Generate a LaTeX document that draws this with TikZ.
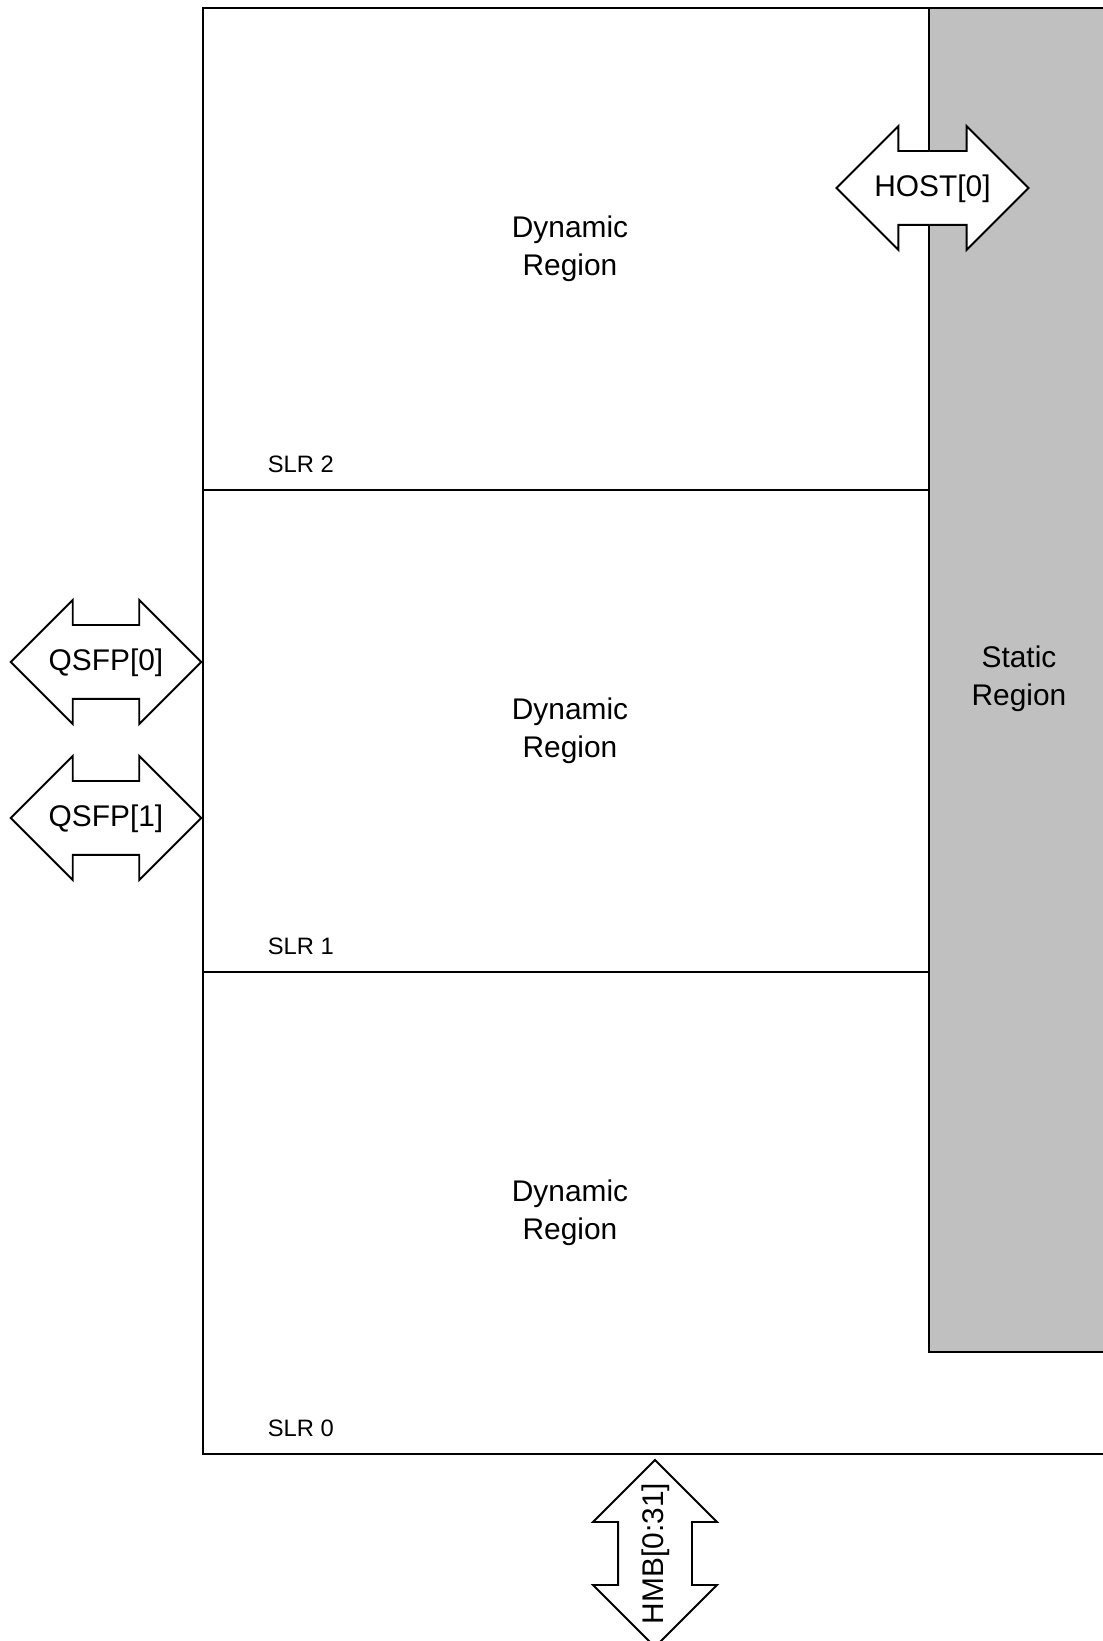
\documentclass[tikz,border=0pt]{standalone}
\usepackage{fontspec}
\setmainfont{Liberation Sans}
\usetikzlibrary{shapes.arrows}
\definecolor{staticgray}{HTML}{C0C0C0}

\begin{document}
\begin{tikzpicture}[line width=1.1pt,
  port/.style={double arrow,draw,fill=white,minimum height=3.8cm,minimum width=2.44cm,
    double arrow head extend=0.5cm,double arrow tip angle=90,inner xsep=0pt,inner ysep=0.395cm,
    text height=0.5cm,text depth=0.15cm,font=\fontsize{17}{21.6}\selectfont},
  region/.style={align=center,font=\fontsize{17}{21.6}\selectfont},
  slr/.style={anchor=west,font=\fontsize{13.5}{16}\selectfont}]

\useasboundingbox (0,0) rectangle (22.04,32.82);

% device outline and static part
\draw (4.06,3.74) rectangle (22.4,32.66);
\draw[fill=staticgray] (18.58,5.78) rectangle (22.4,32.66);

% SLR borders
\draw (4.06,23.02) -- (18.58,23.02);
\draw (4.06,13.38) -- (18.58,13.38);

\node[region] (dyn2) at (11.4,27.84) {Dynamic\\Region};
\node[region] (dyn1) at (11.4,18.2)  {Dynamic\\Region};
\node[region] (dyn0) at (11.4,8.56)  {Dynamic\\Region};
\node[region] (static) at (20.38,19.24) {Static\\Region};

\node[slr] (slr2) at (5.22,23.54) {SLR 2};
\node[slr] (slr1) at (5.22,13.90) {SLR 1};
\node[slr] (slr0) at (5.22,4.26)  {SLR 0};

% interfaces
\node[port,minimum height=3.74cm] (host)  at (18.65,29.06) {HOST[0]};
\node[port]                       (qsfp0) at (2.12,19.58)  {QSFP[0]};
\node[port]                       (qsfp1) at (2.12,16.46)  {QSFP[1]};
\node[port,minimum height=3.74cm,inner xsep=-0.7cm,rotate=90] (hmb) at (13.1,1.75) {HMB[0:31]};

\end{tikzpicture}
\end{document}
